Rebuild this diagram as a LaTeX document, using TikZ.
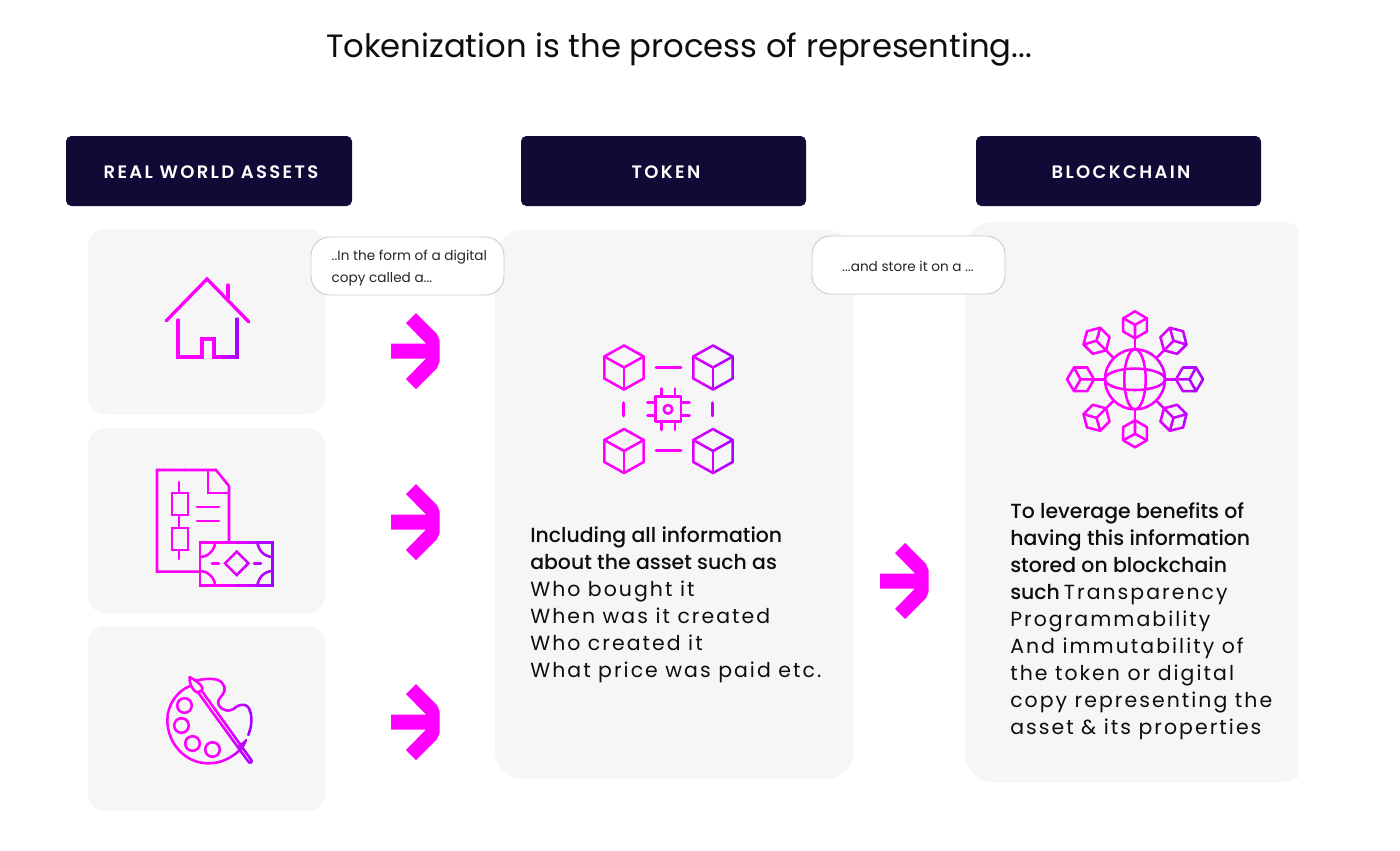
\documentclass[tikz,border=0pt]{standalone}
\usepackage{fontspec}
\setmainfont{Poppins}
\newfontfamily\medfont{Poppins Medium}
\newfontfamily\spacedfont[LetterSpace=10]{Poppins}
\newfontfamily\headfont[LetterSpace=13]{Poppins SemiBold}
\definecolor{mag}{HTML}{FF00FF}
\definecolor{vio}{HTML}{9A00FF}
\definecolor{panel}{HTML}{F6F6F6}
\definecolor{navy}{HTML}{100A36}
\colorlet{icol}{mag}
\tikzset{
  panelbox/.style={fill=panel,draw=none,rounded corners=13pt},
  headbox/.style={fill=navy,draw=none,rounded corners=4pt},
  headlabel/.style={text=white,font=\fontsize{13.5}{16}\selectfont\headfont,anchor=center},
  bubble/.style={fill=white,draw=black!20,line width=0.7pt,rounded corners=14pt},
  bubbletext/.style={font=\fontsize{10.2}{16.5}\selectfont,text=black!85,align=left},
  icon/.style={draw=icol,line width=2.5pt,line cap=round,line join=miter},
  iconthin/.style={draw=icol,line width=1.9pt,line cap=round,line join=round},
  arrowshape/.style={fill=mag,draw=none}
}
\newcommand{\bigarrow}[2]{%
  \fill[arrowshape,shift={(#1,#2)}] (0,-7.5) -- (35,-7.5) -- (15,-28) -- (25,-38) -- (46,-17) -- (48.5,-11) -- (48.5,11) -- (46,17) -- (25,38) -- (15,28) -- (35,7.5) -- (0,7.5) -- cycle;}
% strips of a horizontal magenta-to-violet gradient over a stroked icon
\newcommand{\gradicon}[5]{%
  \foreach \stripno in {0,...,11} {%
    \pgfmathsetmacro\stripw{(#3-(#1))/12}%
    \pgfmathsetmacro\stripa{#1+\stripno*\stripw}%
    \pgfmathsetmacro\stripb{\stripa+\stripw+0.5}%
    \pgfmathsetmacro\strippc{max(0,(\stripno-6)/5)*85}%
    \begin{scope}
      \colorlet{icol}{vio!\strippc!mag}%
      \clip (\stripa,#2) rectangle (\stripb,#4);
      #5
    \end{scope}
  }}
\newcommand{\cubeicon}[2]{%
  \begin{scope}[shift={(#1,#2)},iconthin]
    \draw (0,-22) -- (19.7,-11) -- (19.7,11) -- (0,22) -- (-19.7,11) -- (-19.7,-11) -- cycle;
    \draw (-19.7,-11) -- (0,0) -- (19.7,-11);
    \draw (0,0) -- (0,22);
  \end{scope}}
\begin{document}
\begin{tikzpicture}[x=0.75pt,y=-0.75pt]
\useasboundingbox (0,0) rectangle (1400,850);
\fill[white] (0,0) rectangle (1400,850);
\node[anchor=center,font=\fontsize{24.2}{30}\selectfont,text=black!95] (title) at (679,50) {Tokenization is the process of representing...};
% headers
\fill[headbox] (66,136) rectangle (352,206);
\fill[headbox] (521,136) rectangle (806,206);
\fill[headbox] (976,136) rectangle (1261,206);
\node[headlabel] (h1) at (211,172.5) {REAL WORLD ASSETS};
\node[headlabel] (h2) at (666,172.5) {TOKEN};
\node[headlabel] (h3) at (1121,172.5) {BLOCKCHAIN};
% panels
\fill[panelbox] (88,229) rectangle (325,414);
\fill[panelbox] (88,428) rectangle (325,613);
\fill[panelbox] (88,626) rectangle (325,811);
\fill[panelbox,rounded corners=21pt] (495,230) rectangle (854,779);
\begin{scope}
\clip (960,215) rectangle (1298,790);
\fill[panelbox,rounded corners=21pt] (965,222) rectangle (1310,782);
\end{scope}
% bubbles
\draw[bubble] (311,237) rectangle (504,295);
\draw[bubble] (812,236) rectangle (1005,294);
\node[bubbletext,anchor=west] (b1) at (327,268) {..In the form of a digital\\copy called a...};
\node[bubbletext,anchor=center] (b2) at (908,266) {...and store it on a ...};
% arrows
\bigarrow{391}{351}
\bigarrow{391}{522}
\bigarrow{391}{722}
\bigarrow{880}{581}
% house
\draw[icon] (166,321) -- (207,279) -- (249,322);
\draw[icon] (228,285) -- (228,298);
\gradicon{174}{315}{241}{362}{%
\draw[icon] (178,320) -- (178,357) -- (202,357) -- (202,339) -- (214,339) -- (214,357) -- (237,357) -- (237,319);
}
% document and banknote
\gradicon{153}{466}{277}{590}{%
\begin{scope}[iconthin,line join=miter]
\draw (200,571.7) -- (157,571.7) -- (157,470) -- (216,470) -- (229,486) -- (229,542);
\draw (208,470) -- (208,493) -- (229,493);
\draw (179,482) -- (179,493);
\draw (172,493) rectangle (188,515);
\draw (179,515) -- (179,528);
\draw (172,528) rectangle (188,550);
\draw (179,550) -- (179,559);
\draw (197,507) -- (219,507);
\draw (197,521) -- (219,521);
\draw (200,542.3) rectangle (272.7,585.7);
\draw (200,557) .. controls (208,557) and (215,550) .. (215,542.3);
\draw (272.7,557) .. controls (264.7,557) and (257.7,550) .. (257.7,542.3);
\draw (200,571) .. controls (208,571) and (215,578) .. (215,585.7);
\draw (272.7,571) .. controls (264.7,571) and (257.7,578) .. (257.7,585.7);
\draw (236.7,551.6) -- (248.4,563.3) -- (236.7,575) -- (225,563.3) -- cycle;
\draw (212,563.3) -- (219,563.3);
\draw (254,563.3) -- (261,563.3);
\end{scope}
}
% palette
\gradicon{163}{672}{256}{768}{%
\begin{scope}[iconthin]
\draw (195,680.7) .. controls (203,679) and (212,678) .. (218,680) .. controls (225,683) and (226,690) .. (223,694) .. controls (220,698) and (217,701) .. (218.5,704) .. controls (221,711) and (230,713) .. (236,707) .. controls (240,704) and (246,704) .. (248,707) .. controls (252,712) and (253,724) .. (248.3,735);
\draw (246,740) .. controls (244,745) and (242,748) .. (240,750) .. controls (230,759) and (220,763.3) .. (208,763.3) .. controls (185,763.3) and (167.3,743) .. (167.3,720) .. controls (167.3,705) and (177,691) .. (190,686);
\draw (184.5,705.5) circle[radius=7.3];
\draw (181.5,725.5) circle[radius=7.3];
\draw (192.5,743.5) circle[radius=7.3];
\draw (212.5,749.5) circle[radius=7.3];
\draw (189.5,677) .. controls (189,683) and (192,690) .. (197,692.5) .. controls (200,692) and (203,690) .. (202.5,688) .. controls (200,683) and (195,680) .. (189.5,677);
\draw (198.5,693) -- (248.3,761.5) .. controls (250,764) and (253,762) .. (251,759.5) -- (201.5,690.5);
\draw (238,747) -- (244.5,742);
\end{scope}
}
% token icon
\gradicon{600}{342}{738}{478}{%
\cubeicon{624}{367.5}
\cubeicon{713}{367.5}
\cubeicon{624}{451}
\cubeicon{713}{451}
\begin{scope}[iconthin]
\draw (656,367.7) -- (681,367.7);
\draw (656,450.7) -- (681,450.7);
\draw (623.7,402.7) -- (623.7,416);
\draw (712.7,402.7) -- (712.7,416);
\draw (655.7,396.7) rectangle (681,421.7);
\draw (668,409.3) circle[radius=4.3];
\foreach \p in {661.7,675} {
  \draw (\p,388.5) -- (\p,396.7);
  \draw (\p,421.7) -- (\p,430);
}
\foreach \q in {402.7,415.7} {
  \draw (647.5,\q) -- (655.7,\q);
  \draw (681,\q) -- (689.5,\q);
}
\end{scope}
}
% blockchain icon
\gradicon{1063}{307}{1207}{452}{%
\begin{scope}[shift={(1135,379.3)},iconthin]
\draw (0,0) circle[radius=30];
\draw (0,0) ellipse[x radius=10.7,y radius=30];
\draw (0,0) ellipse[x radius=30,y radius=10.7];
\foreach \a in {0,45,...,315} {
  \begin{scope}[rotate=\a]
    \draw (0,-30) -- (0,-41);
    \draw (0,-41) -- (11.8,-47.8) -- (11.8,-61) -- (0,-68) -- (-11.8,-61) -- (-11.8,-47.8) -- cycle;
    \draw (0,-41) -- (0,-54.5) -- (11.8,-61);
    \draw (0,-54.5) -- (-11.8,-61);
  \end{scope}
}
\end{scope}
}
% text
\node[anchor=north west,align=left,inner sep=0pt,font=\fontsize{15.33}{20.3}\selectfont,text=black!95] (t1) at (530,526) {{\medfont Including all information}\\{\medfont about the asset such as}\\{\spacedfont Who bought it}\\{\spacedfont When was it created}\\{\spacedfont Who created it}\\{\spacedfont What price was paid etc.}};
\node[anchor=north west,align=left,inner sep=0pt,font=\fontsize{15.33}{20.3}\selectfont,text=black!95] (t2) at (1010,502) {{\medfont To leverage benefits of}\\{\medfont having this information}\\{\medfont stored on blockchain}\\{\medfont such}\hspace{3pt}{\spacedfont Transparency}\\{\spacedfont Programmability}\\{\spacedfont And immutability of}\\{\spacedfont the token or digital}\\{\spacedfont copy representing the}\\{\spacedfont asset \& its properties}};
\end{tikzpicture}
\end{document}
